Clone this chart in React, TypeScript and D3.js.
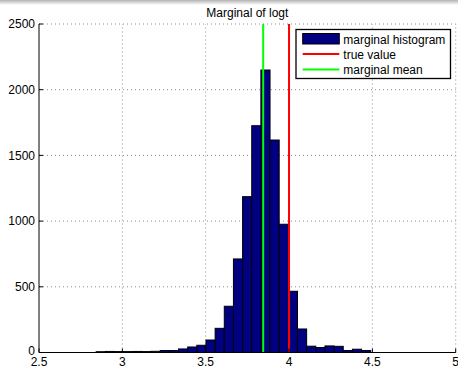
import React from "react";
import * as d3 from "d3";

// Histogram of posterior samples for logt
const binStart = 2.843;
const binWidth = 0.0549;
const binCounts = [
  6, 8, 7, 7, 8, 7, 9, 15, 15, 27,
  42, 55, 95, 184, 352, 712, 1186, 1726, 2150, 1617,
  976, 466, 179, 48, 38, 50, 47, 15, 25, 15,
];
const trueValue = 4.0;
const marginalMean = 3.845;

const xTicks = [2.5, 3, 3.5, 4, 4.5, 5];
const yTicks = [0, 500, 1000, 1500, 2000, 2500];
const titleText = "Marginal of logt";
const legendLabels = ["marginal histogram", "true value", "marginal mean"];

const W = 458;
const H = 367;
const left = 39;
const right = 455.7;
const top = 24;
const bottom = 352.5;
const font = "'Liberation Sans', Arial, Helvetica, sans-serif";
const fs = 12;

export default function App() {
  const x = d3.scaleLinear().domain([2.5, 5]).range([left, right]);
  const y = d3.scaleLinear().domain([0, 2500]).range([bottom, top]);

  const bins = binCounts.map((c, i) => ({
    x0: binStart + i * binWidth,
    x1: binStart + (i + 1) * binWidth,
    count: c,
  }));

  const gridColor = "#8c8c8c";

  return (
    <svg
      width={W}
      height={H}
      style={{ position: "absolute", left: 0, top: 0, background: "#fff" }}
    >
      <defs>
        <linearGradient id="topShade" x1="0" y1="0" x2="0" y2="1">
          <stop offset="0" stopColor="#b4b4b4" />
          <stop offset="1" stopColor="#ffffff" />
        </linearGradient>
      </defs>
      <rect x={0} y={0} width={W} height={H} fill="#fff" />
      <rect x={0} y={0} width={W} height={5} fill="url(#topShade)" />

      {/* grid */}
      {xTicks.slice(1).map((t) => (
        <line
          key={"gx" + t}
          x1={x(t)}
          x2={x(t)}
          y1={bottom}
          y2={top}
          stroke={gridColor}
          strokeWidth={1}
          strokeDasharray="1,3"
        />
      ))}
      {yTicks.slice(1).map((t) => (
        <line
          key={"gy" + t}
          x1={left}
          x2={right}
          y1={y(t)}
          y2={y(t)}
          stroke={gridColor}
          strokeWidth={1}
          strokeDasharray="1,3"
        />
      ))}

      {/* histogram bars */}
      {bins.map((b, i) => (
        <rect
          key={i}
          x={x(b.x0)}
          y={y(b.count)}
          width={x(b.x1) - x(b.x0)}
          height={bottom - y(b.count)}
          fill="#000080"
          stroke="#000"
          strokeWidth={1}
        />
      ))}

      {/* reference lines */}
      <line
        x1={x(trueValue)}
        x2={x(trueValue)}
        y1={bottom}
        y2={top}
        stroke="#ff0000"
        strokeWidth={2}
      />
      <line
        x1={x(marginalMean)}
        x2={x(marginalMean)}
        y1={bottom}
        y2={top}
        stroke="#00ff00"
        strokeWidth={2}
      />

      {/* axes */}
      <line x1={left} x2={left} y1={top} y2={bottom} stroke="#000" strokeWidth={1} />
      <line x1={left} x2={right} y1={bottom} y2={bottom} stroke="#000" strokeWidth={1} />
      {xTicks.map((t) => (
        <g key={"xt" + t}>
          <line x1={x(t)} x2={x(t)} y1={bottom} y2={bottom - 4} stroke="#000" strokeWidth={1} />
          <text
            x={x(t)}
            y={366}
            textAnchor="middle"
            fontFamily={font}
            fontSize={fs}
            fill="#000"
          >
            {String(t)}
          </text>
        </g>
      ))}
      {yTicks.map((t) => (
        <g key={"yt" + t}>
          <line x1={left} x2={left + 4} y1={y(t)} y2={y(t)} stroke="#000" strokeWidth={1} />
          <text
            x={35}
            y={y(t) - (t === 0 ? 2 : 0)}
            dy="0.35em"
            textAnchor="end"
            fontFamily={font}
            fontSize={fs}
            fill="#000"
          >
            {String(t)}
          </text>
        </g>
      ))}

      {/* title */}
      <text
        x={(left + right) / 2}
        y={17}
        textAnchor="middle"
        fontFamily={font}
        fontSize={fs}
        fill="#000"
      >
        {titleText}
      </text>

      {/* legend */}
      <g>
        <rect x={296} y={29.5} width={154.5} height={49} fill="#fff" stroke="#000" strokeWidth={1.3} />
        <rect x={302.7} y={33.5} width={36.6} height={10.5} fill="#000080" stroke="#000" strokeWidth={1} />
        <line x1={302.7} x2={339.3} y1={54} y2={54} stroke="#ff0000" strokeWidth={2} />
        <line x1={302.7} x2={339.3} y1={69.5} y2={69.5} stroke="#00ff00" strokeWidth={2} />
        {legendLabels.map((l, i) => (
          <text
            key={l}
            x={343.3}
            y={39.5 + i * 15.3}
            dy="0.35em"
            fontFamily={font}
            fontSize={fs}
            fill="#000"
          >
            {l}
          </text>
        ))}
      </g>
    </svg>
  );
}
